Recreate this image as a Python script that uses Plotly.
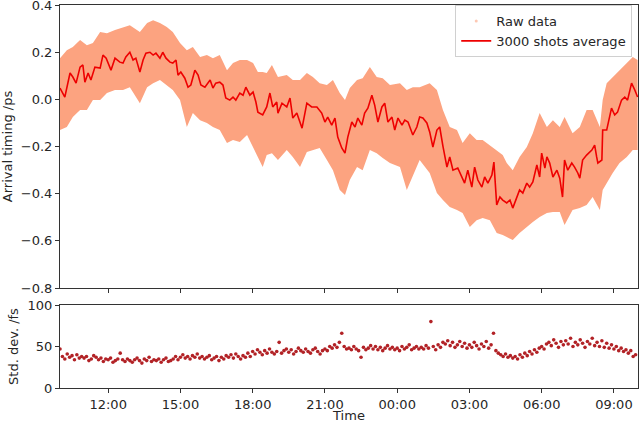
import datetime as dt
import plotly.graph_objects as go
from plotly.subplots import make_subplots

START = dt.datetime(2019, 3, 1, 10, 0)

# Raw-data band (envelope of the raw shots), minutes after 10:00
env_min = [0,17,32,50,67,82,100,117,137,157,174,199,217,232,249,266,281,299,316,331,
           349,366,381,398,416,431,448,466,481,493,505,515,528,543,565,580,598,615,630,647,
           665,680,697,710,722,740,754,772,789,804,822,847,864,879,896,921,939,954,971,989,
           1003,1021,1038,1053,1071,1088,1103,1113,1128,1145,1163,1178,1195,1213,1228,1245,
           1257,1277,1295,1312,1327,1345,1352,1362,1377,1394,1412,1427,1439]
raw_upper = [0.175,0.209,0.222,0.252,0.230,0.239,0.286,0.281,0.294,0.307,
             0.315,0.286,0.324,0.336,0.324,0.307,0.286,0.239,0.209,0.222,
             0.180,0.188,0.175,0.188,0.124,0.154,0.167,0.167,0.154,0.116,
             0.116,0.112,0.146,0.095,0.103,0.082,0.082,0.112,0.095,0.069,
             0.061,0.082,0.027,-0.003,0.048,0.082,0.090,0.137,0.095,0.090,
             0.061,0.069,0.040,0.052,0.052,0.069,0.040,-0.045,-0.117,-0.130,
             -0.185,-0.143,-0.172,-0.172,-0.194,-0.215,-0.236,-0.270,-0.300,-0.244,
             -0.202,-0.143,-0.058,-0.117,-0.088,-0.117,-0.075,-0.143,-0.117,-0.045,
             -0.045,-0.117,-0.003,0.069,0.095,0.124,0.154,0.180,0.167]
raw_lower = [-0.130,-0.117,-0.075,-0.045,-0.045,-0.003,-0.003,0.027,0.040,0.040,
             0.052,-0.016,0.052,0.069,0.082,0.061,0.040,-0.003,-0.117,-0.058,
             -0.088,-0.100,-0.117,-0.130,-0.185,-0.172,-0.181,-0.151,-0.202,-0.244,
             -0.287,-0.236,-0.228,-0.257,-0.215,-0.244,-0.287,-0.223,-0.215,-0.206,
             -0.257,-0.300,-0.384,-0.405,-0.342,-0.287,-0.300,-0.215,-0.228,-0.249,
             -0.270,-0.287,-0.384,-0.321,-0.257,-0.312,-0.397,-0.427,-0.456,-0.469,
             -0.482,-0.541,-0.512,-0.503,-0.512,-0.567,-0.575,-0.584,-0.596,-0.567,
             -0.541,-0.520,-0.499,-0.482,-0.478,-0.478,-0.533,-0.469,-0.461,-0.448,
             -0.414,-0.469,-0.384,-0.355,-0.312,-0.270,-0.244,-0.215,-0.215]

# 3000 shots average
avg_min = [0,12,25,32,40,50,57,62,70,77,87,100,107,115,127,137,149,157,164,174,
           182,189,199,207,214,224,232,239,249,256,264,274,281,289,294,301,311,319,326,336,
           344,351,361,374,381,388,398,406,413,423,431,438,448,456,463,473,481,488,493,505,
           515,523,530,540,543,553,565,573,580,590,603,615,627,640,652,660,667,677,685,692,
           702,710,717,727,735,742,752,759,767,777,784,792,802,809,817,827,834,842,852,859,
           867,879,889,896,904,914,921,929,939,946,954,964,971,979,991,1001,1008,1016,1026,1033,
           1041,1051,1058,1066,1076,1081,1088,1096,1103,1113,1121,1128,1138,1145,1153,1163,1170,1178,1188,1195,
           1200,1208,1213,1220,1228,1238,1245,1252,1257,1265,1275,1282,1290,1295,1302,1312,1325,1332,1337,1340,
           1350,1352,1362,1370,1374,1382,1389,1399,1407,1414,1424,1432,1439]
avg_val = [0.048,0.010,0.112,0.095,0.069,0.137,0.146,0.073,0.112,0.082,
           0.137,0.133,0.188,0.175,0.124,0.175,0.158,0.154,0.180,0.200,
           0.167,0.175,0.116,0.167,0.196,0.200,0.188,0.196,0.175,0.200,
           0.175,0.158,0.154,0.167,0.103,0.116,0.090,0.052,0.061,0.124,
           0.103,0.061,0.052,0.082,0.048,0.069,0.073,0.061,0.006,-0.003,
           0.010,-0.003,0.027,0.018,0.052,0.018,0.031,-0.011,-0.054,-0.066,
           -0.032,0.027,-0.032,-0.011,-0.058,-0.016,-0.032,0.006,-0.079,-0.058,
           -0.122,-0.016,-0.032,-0.032,-0.058,-0.096,-0.075,-0.109,-0.079,-0.160,
           -0.206,-0.228,-0.160,-0.096,-0.117,-0.079,-0.109,-0.058,-0.037,0.018,
           -0.024,-0.096,-0.032,-0.016,-0.096,-0.075,-0.130,-0.079,-0.109,-0.088,
           -0.096,-0.151,-0.117,-0.075,-0.079,-0.100,-0.138,-0.202,-0.130,-0.117,
           -0.198,-0.287,-0.244,-0.300,-0.291,-0.329,-0.355,-0.300,-0.372,-0.287,
           -0.342,-0.372,-0.329,-0.355,-0.321,-0.266,-0.448,-0.414,-0.427,-0.439,
           -0.427,-0.461,-0.414,-0.384,-0.397,-0.355,-0.372,-0.350,-0.278,-0.329,
           -0.228,-0.291,-0.244,-0.270,-0.329,-0.300,-0.334,-0.414,-0.257,-0.300,
           -0.270,-0.287,-0.312,-0.334,-0.257,-0.236,-0.215,-0.194,-0.244,-0.270,
           -0.257,-0.130,-0.130,-0.075,-0.037,-0.066,-0.054,-0.003,0.010,-0.003,
           0.069,0.040,0.010]

# Standard deviation (fs), one value every 6 minutes from 10:00
std_step_min = 6
std_val = [47,38,35,41,37,39,34,40,36,38,
           36,38,33,35,39,37,34,36,32,35,
           34,36,31,33,35,42,34,32,35,33,
           31,34,36,33,30,35,33,37,32,34,
           33,35,31,34,36,32,33,35,38,34,
           37,40,36,38,35,39,37,41,36,38,
           35,37,39,34,36,38,33,37,35,39,
           37,40,36,41,38,35,39,37,42,38,
           44,41,46,43,40,45,42,47,43,41,
           44,55,42,45,47,43,46,41,44,48,
           45,43,47,44,42,46,48,44,41,45,
           47,45,50,48,52,49,55,66,50,47,
           48,46,50,47,45,37,49,46,48,51,
           47,50,46,49,45,48,51,47,49,46,
           48,45,50,47,49,52,46,48,50,47,
           49,47,51,48,80,50,46,52,49,55,
           53,57,51,55,49,52,56,50,54,48,
           52,49,55,51,47,53,50,56,48,52,
           66,45,42,40,38,41,37,39,36,38,
           35,40,37,42,39,44,41,46,43,48,
           50,47,53,55,51,58,54,49,56,52,
           57,53,60,50,55,52,58,54,49,56,
           53,60,51,55,50,57,49,54,48,52,
           47,50,45,48,44,46,42,45,38,40]

top_ticks = [-0.8, -0.6, -0.4, -0.2, 0.0, 0.2, 0.4]
std_ticks = [0, 50, 100]

def t(m):
    return START + dt.timedelta(minutes=m)

env_t = [t(m) for m in env_min]
avg_t = [t(m) for m in avg_min]
std_t = [t(i * std_step_min) for i in range(len(std_val))]

SALMON = "rgb(252,163,128)"
FONT = "DejaVu Sans"
TXT = "#262626"

fig = make_subplots(rows=2, cols=1, shared_xaxes=True, vertical_spacing=0.0)

fig.add_trace(go.Scatter(x=env_t, y=raw_upper, mode="lines", line=dict(width=0, color=SALMON),
                         showlegend=False, hoverinfo="skip"), row=1, col=1)
fig.add_trace(go.Scatter(x=env_t, y=raw_lower, mode="lines", line=dict(width=0, color=SALMON),
                         fill="tonexty", fillcolor=SALMON, showlegend=False, hoverinfo="skip"),
              row=1, col=1)
fig.add_trace(go.Scatter(x=[None], y=[None], mode="markers", name="Raw data",
                         marker=dict(size=3, color="rgba(252,163,128,0.6)")), row=1, col=1)
fig.add_trace(go.Scatter(x=avg_t, y=avg_val, mode="lines", name="3000 shots average",
                         line=dict(color="#ee0000", width=1.6)), row=1, col=1)
fig.add_trace(go.Scatter(x=std_t, y=std_val, mode="markers", showlegend=False,
                         marker=dict(size=3.6, color="#b22226")), row=2, col=1)

xr = [START, START + dt.timedelta(minutes=1440)]
axis_common = dict(showline=True, linecolor="#333333", linewidth=1, mirror=True,
                   ticks="outside", ticklen=4, tickcolor="#333333", showgrid=False,
                   zeroline=False, automargin=False, ticklabeloverflow="allow",
                   tickfont=dict(family=FONT, size=13, color=TXT))

fig.update_xaxes(**axis_common, range=xr, type="date", tickformat="%H:%M",
                 tick0=dt.datetime(2019, 3, 1, 0, 0), dtick=3 * 3600 * 1000)
fig.update_xaxes(showticklabels=False, row=1, col=1)
fig.update_xaxes(title=dict(text="Time", font=dict(family=FONT, size=13, color=TXT), standoff=0),
                 row=2, col=1)

fig.update_yaxes(**axis_common)
fig.update_yaxes(range=[-0.8, 0.4004], tickvals=top_ticks,
                 ticktext=[f"{v:.1f}".replace("-", "\u2212") for v in top_ticks],
                 domain=[0.261, 1.0],
                 title=dict(text="Arrival timing /ps", font=dict(family=FONT, size=13, color=TXT),
                            standoff=6), row=1, col=1)
fig.update_yaxes(range=[0, 100], tickvals=std_ticks, domain=[0.0, 0.2167],
                 title=dict(text="Std. dev. /fs", font=dict(family=FONT, size=13, color=TXT),
                            standoff=6), row=2, col=1)

fig.update_layout(
    width=640, height=423,
    margin=dict(l=60, r=2, t=5, b=35),
    paper_bgcolor="white", plot_bgcolor="white",
    font=dict(family=FONT, size=13, color=TXT),
    legend=dict(x=0.99, y=1.0, xanchor="right", yanchor="top", traceorder="normal",
                bgcolor="rgba(255,255,255,0.85)", bordercolor="#d0d0d0", borderwidth=1,
                font=dict(family=FONT, size=13, color=TXT), tracegroupgap=0),
    showlegend=True,
)

fig.write_html("out.html", config={"displayModeBar": False},
               post_script="document.body.style.margin='0';document.body.style.padding='0';")
